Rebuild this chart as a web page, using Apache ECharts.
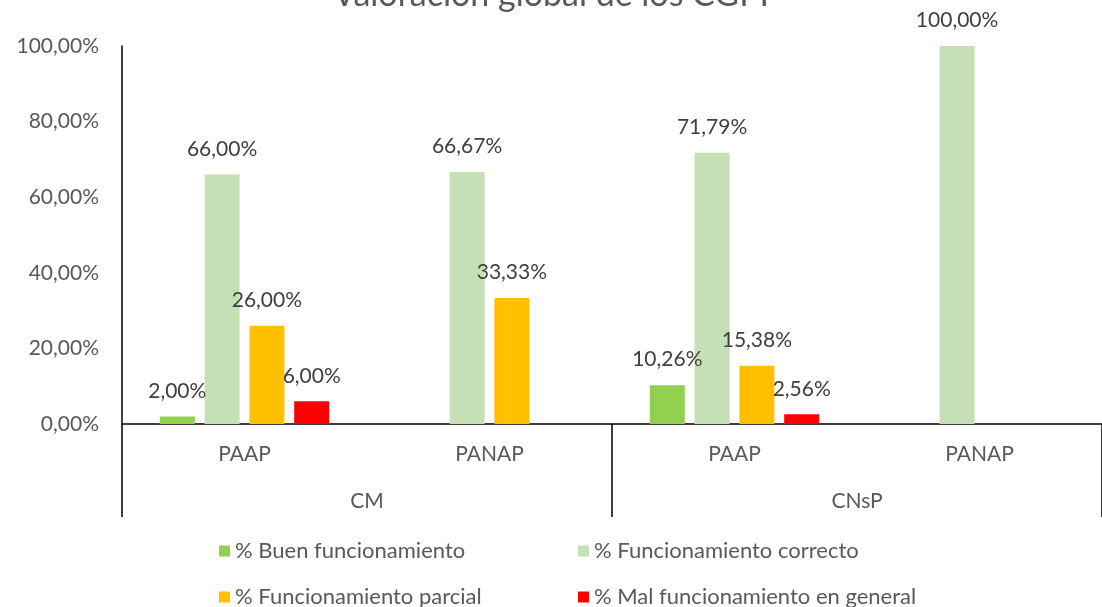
<!DOCTYPE html>
<html>
<head>
<meta charset="utf-8">
<title>Valoración global de los CGPI</title>
<script src="https://cdn.jsdelivr.net/npm/echarts@6/dist/echarts.min.js"></script>
<style>
  html, body { margin: 0; padding: 0; background: #fff; }
  #chart { width: 1102px; height: 607px; }
</style>
</head>
<body>
<div id="chart"></div>
<script>
// data
var subCategories = ['PAAP', 'PANAP', 'PAAP', 'PANAP'];
var groups = ['CM', 'CNsP'];
var seriesNames = [
    '% Buen funcionamiento',
    '% Funcionamiento correcto',
    '% Funcionamiento parcial',
    '% Mal funcionamiento en general'
];
var buenVals = [2.00, null, 10.26, null];
var correctoVals = [66.00, 66.67, 71.79, 100.00];
var parcialVals = [26.00, 33.33, 15.38, null];
var malVals = [6.00, null, 2.56, null];
var colors = ['#92D050', '#C5E0B4', '#FFC000', '#FF0000'];

var FONT = 'Lato, "Open Sans", sans-serif';

function pct(v) {
    return Number(v).toFixed(2).replace('.', ',') + '%';
}

var allVals = [buenVals, correctoVals, parcialVals, malVals];
var series = allVals.map(function (vals, i) {
    return {
        name: seriesNames[i],
        type: 'bar',
        data: vals,
        barWidth: 35,
        barGap: '28%',
        itemStyle: { color: colors[i] },
        label: {
            show: true,
            position: 'top',
            distance: 15,
            fontFamily: FONT,
            fontSize: 21,
            color: '#404040',
            formatter: function (p) { return pct(p.value); }
        }
    };
});

var chart = echarts.init(document.getElementById('chart'));
chart.setOption({
    animation: false,
    title: {
        text: 'Valoración global de los CGPI',
        left: 'center',
        top: -27,
        textStyle: { fontFamily: FONT, fontSize: 34, fontWeight: 'normal', color: '#595959' }
    },
    grid: { left: 122, right: 0, top: 46, bottom: 183 },
    legend: {
        data: seriesNames,
        left: 214,
        top: 534,
        width: 720,
        itemWidth: 11,
        itemHeight: 11,
        itemGap: 22,
        icon: 'rect',
        textStyle: {
            fontFamily: FONT, fontSize: 22, color: '#595959',
            width: 321, lineHeight: 24
        }
    },
    xAxis: [
        {
            type: 'category',
            data: subCategories,
            axisLine: { lineStyle: { color: '#000', width: 1.5 } },
            axisTick: { show: false },
            axisLabel: { fontFamily: FONT, fontSize: 21, color: '#595959', margin: 20 }
        },
        {
            type: 'category',
            data: groups,
            position: 'bottom',
            offset: 93,
            axisLine: { show: false },
            axisTick: { show: true, inside: true, length: 93, lineStyle: { color: '#000', width: 1.5 } },
            axisLabel: { inside: true, fontFamily: FONT, fontSize: 21, color: '#595959', margin: 5 }
        }
    ],
    yAxis: {
        type: 'value',
        min: 0,
        max: 100,
        interval: 20,
        axisLine: { show: true, lineStyle: { color: '#000', width: 1.5 } },
        axisTick: { show: false },
        splitLine: { show: false },
        axisLabel: {
            fontFamily: FONT, fontSize: 21, color: '#595959', margin: 23,
            formatter: function (v) { return pct(v); }
        }
    },
    series: series
});
</script>
</body>
</html>
